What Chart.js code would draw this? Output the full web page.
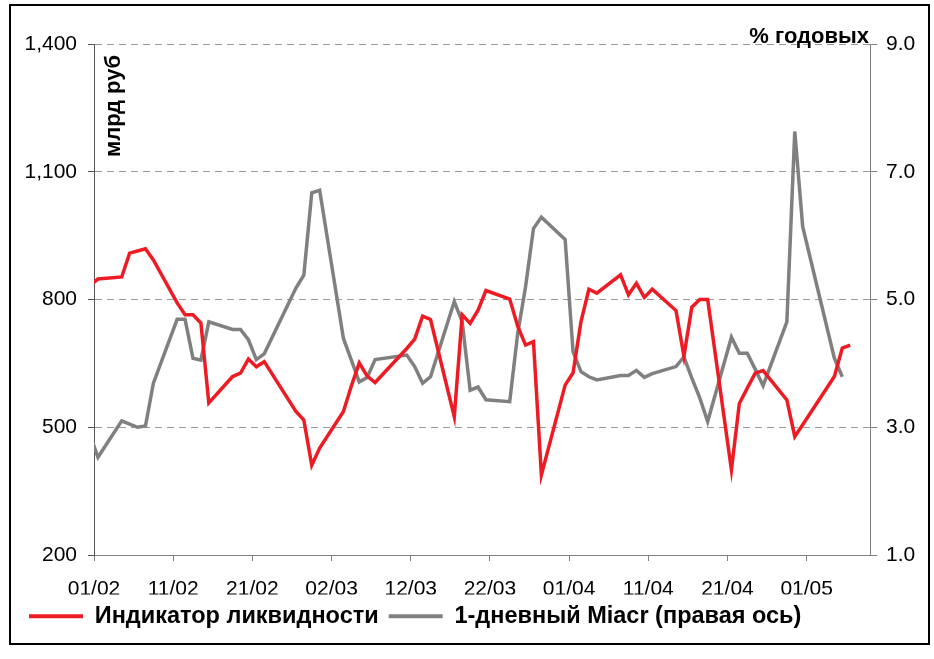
<!DOCTYPE html>
<html>
<head>
<meta charset="utf-8">
<script src="https://cdn.jsdelivr.net/npm/chart.js@4.4.1/dist/chart.umd.min.js"></script>
<style>
    html, body { margin: 0; padding: 0; background: #fff; }
    #wrap { width: 934px; height: 659px; }
</style>
</head>
<body>
<div id="wrap"><canvas id="liquidityChart" width="934" height="659"></canvas></div>
<script>
// trading days, dd/mm (2008)
const dates = [
    '31/01', '01/02', '04/02', '05/02', '06/02', '07/02', '08/02', '11/02', '12/02', '13/02',
    '14/02', '15/02', '18/02', '19/02', '20/02', '21/02', '22/02', '26/02', '27/02', '28/02',
    '29/02', '03/03', '04/03', '05/03', '06/03', '07/03', '11/03', '12/03', '13/03', '14/03',
    '17/03', '18/03', '19/03', '20/03', '21/03', '24/03', '25/03', '26/03', '27/03', '28/03',
    '31/03', '01/04', '02/04', '03/04', '04/04', '07/04', '08/04', '09/04', '10/04', '11/04',
    '14/04', '15/04', '16/04', '17/04', '18/04', '21/04', '22/04', '23/04', '24/04', '25/04',
    '28/04', '29/04', '30/04', '04/05', '05/05', '06/05'
];

// Индикатор ликвидности, млрд руб
const liquidity = [
    833, 848, 853, 909, 914, 919, 893, 792, 764, 764,
    745, 557, 619, 627, 660, 642, 654, 537, 517, 411,
    451, 537, 597, 651, 620, 605, 685, 707, 761, 753,
    525, 764, 744, 775, 821, 801, 738, 693, 701, 388,
    599, 628, 748, 824, 815, 858, 811, 838, 805, 824,
    774, 667, 782, 800, 800, 400, 556, 592, 627, 633,
    564, 478, 506, 619, 686, 693
];

// 1-дневный Miacr, % годовых
const miacr = [
    2.88, 2.53, 3.10, 3.05, 3.00, 3.02, 3.69, 4.69, 4.69, 4.08,
    4.05, 4.65, 4.53, 4.53, 4.37, 4.06, 4.15, 5.18, 5.38, 6.67,
    6.71, 4.39, 4.05, 3.71, 3.78, 4.06, 4.13, 3.95, 3.69, 3.79,
    4.97, 4.65, 3.58, 3.63, 3.43, 3.40, 4.46, 5.20, 6.11, 6.29,
    5.94, 4.18, 3.87, 3.79, 3.74, 3.81, 3.81, 3.89, 3.78, 3.84,
    3.95, 4.10, 3.77, 3.46, 3.09, 4.41, 4.16, 4.16, 3.91, 3.65,
    4.65, 7.63, 6.14, 4.08, 3.79, null
];

const tickLabels = ['01/02', '11/02', '21/02', '02/03', '12/03', '22/03', '01/04', '11/04', '21/04', '01/05'];

// days counted from 01/02; a point sits in the middle of its day
const monthStart = { '01': -31, '02': 0, '03': 29, '04': 60, '05': 90 };
function dayOf(d) {
    const [dd, mm] = d.split('/');
    return monthStart[mm] + Number(dd) - 1 + 0.5;
}

const FONT = 'Arial, "Liberation Sans", sans-serif';
Chart.defaults.font.family = FONT;
Chart.defaults.color = '#000';

const decorations = {
    id: 'decorations',
    beforeDraw(chart) {
        const ctx = chart.ctx;
        ctx.save();
        ctx.fillStyle = '#fff';
        ctx.fillRect(0, 0, chart.width, chart.height);
        ctx.restore();
    },
    afterDraw(chart) {
        const ctx = chart.ctx;
        const area = chart.chartArea;
        ctx.save();
        ctx.strokeStyle = '#000';
        ctx.lineWidth = 2;
        ctx.strokeRect(10, 5, 919, 639);

        ctx.fillStyle = '#000';
        ctx.font = 'bold 22px ' + FONT;
        ctx.textAlign = 'right';
        ctx.textBaseline = 'alphabetic';
        ctx.fillText('% годовых', area.right - 1, area.top - 1);

        ctx.translate(area.left + 26, area.top + 62);
        ctx.rotate(-Math.PI / 2);
        ctx.textAlign = 'center';
        ctx.fillText('млрд руб', 0, 0);
        ctx.restore();
    }
};

function renderChart() {
    const ctx = document.getElementById('liquidityChart').getContext('2d');
    new Chart(ctx, {
        type: 'line',
        data: {
            datasets: [{
                label: 'Индикатор ликвидности',
                data: dates.map((d, i) => ({ x: dayOf(d), y: liquidity[i] })),
                borderColor: '#ed1c24',
                backgroundColor: '#ed1c24',
                borderWidth: 3.5,
                pointRadius: 0,
                tension: 0,
                clip: 0,
                yAxisID: 'y'
            }, {
                label: '1-дневный Miacr (правая ось)',
                data: dates.map((d, i) => ({ x: dayOf(d), y: miacr[i] })),
                borderColor: '#808080',
                backgroundColor: '#808080',
                borderWidth: 3.5,
                pointRadius: 0,
                tension: 0,
                clip: 0,
                yAxisID: 'y2'
            }]
        },
        options: {
            responsive: false,
            animation: false,
            events: [],
            layout: {
                padding: { left: 19, right: 14, top: 44, bottom: 21 }
            },
            plugins: {
                tooltip: { enabled: false },
                legend: {
                    position: 'bottom',
                    align: 'start',
                    labels: {
                        boxWidth: 54,
                        boxHeight: 4,
                        padding: 10,
                        color: '#000',
                        font: { size: 23.5, weight: 'bold' },
                        generateLabels: chart =>
                            Chart.defaults.plugins.legend.labels.generateLabels(chart)
                                .map(item => ({ ...item, lineWidth: 0 }))
                    }
                }
            },
            scales: {
                x: {
                    type: 'linear',
                    min: 0,
                    max: 98,
                    ticks: {
                        stepSize: 10,
                        includeBounds: false,
                        autoSkip: false,
                        maxRotation: 0,
                        padding: 16,
                        font: { size: 21 },
                        color: '#000',
                        callback: v => tickLabels[v / 10] || ''
                    },
                    grid: {
                        drawOnChartArea: false,
                        tickLength: 6,
                        tickColor: '#808080'
                    },
                    border: { color: '#808080', width: 1 },
                    afterFit: scale => { scale.height = 39.5; }
                },
                y: {
                    position: 'left',
                    min: 200,
                    max: 1400,
                    ticks: {
                        stepSize: 300,
                        padding: 11,
                        font: { size: 21 },
                        color: '#000'
                    },
                    grid: {
                        color: '#999',
                        tickLength: 6,
                        tickColor: '#555',
                        tickBorderDash: []
                    },
                    border: { color: '#555', width: 1, dash: [7, 5] },
                    afterFit: scale => { scale.width = 75; }
                },
                y2: {
                    position: 'right',
                    min: 1,
                    max: 9,
                    ticks: {
                        stepSize: 2,
                        padding: 9,
                        font: { size: 21 },
                        color: '#000',
                        callback: v => v.toFixed(1)
                    },
                    grid: {
                        drawOnChartArea: false,
                        tickLength: 7,
                        tickColor: '#808080'
                    },
                    border: { color: '#808080', width: 1 },
                    afterFit: scale => { scale.width = 50; }
                }
            }
        },
        plugins: [decorations]
    });
}

document.addEventListener('DOMContentLoaded', renderChart);
</script>
</body>
</html>
